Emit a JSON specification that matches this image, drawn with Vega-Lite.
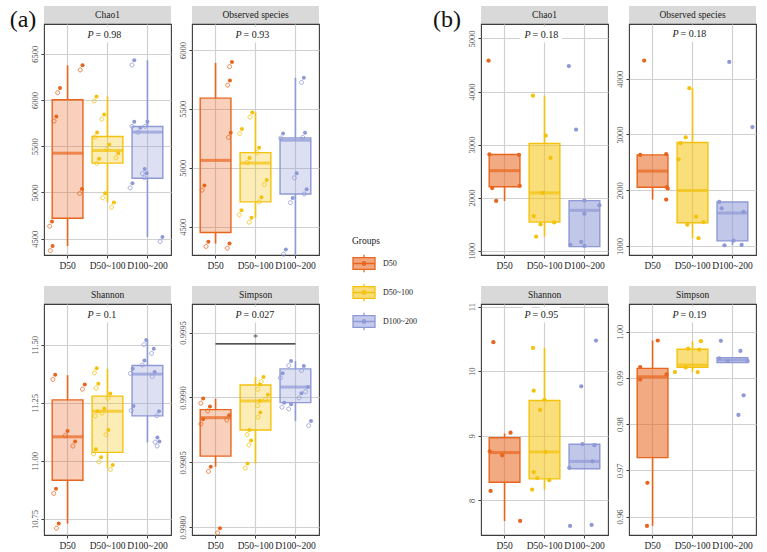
{
  "$schema": "https://vega.github.io/schema/vega-lite/v6.json",
  "padding": {"left": 9, "top": 6, "right": 2, "bottom": 2},
  "background": "white",
  "config": {
    "font": "Liberation Serif",
    "view": {"stroke": "#3c3c3c", "strokeWidth": 1.1},
    "axisX": {"labelAngle": 0, "labelFontSize": 9.5, "labelColor": "#1a1a1a", "labelPadding": 2, "tickSize": 3, "tickColor": "#3c3c3c", "domain": false, "gridColor": "#d0d0d0", "gridWidth": 1.2, "bandPosition": 0.5},
    "axisY": {"labelAngle": 270, "labelAlign": "center", "labelBaseline": "bottom", "labelFontSize": 8.5, "labelColor": "#4d4d4d", "labelPadding": 2, "tickSize": 3, "tickColor": "#3c3c3c", "domain": false},
    "legend": {"titleFont": "Liberation Serif", "labelFont": "Liberation Serif", "padding": 0}
  },
  "datasets": {
    "pts": [
      {"s":"a","m":"Chao1","g":"D50","v":6128,"j":-0.19},
      {"s":"a","m":"Chao1","g":"D50","v":5821,"j":-0.28},
      {"s":"a","m":"Chao1","g":"D50","v":6374,"j":0.375},
      {"s":"a","m":"Chao1","g":"D50","v":5038,"j":0.36},
      {"s":"a","m":"Chao1","g":"D50","v":4684,"j":-0.39},
      {"s":"a","m":"Chao1","g":"D50","v":4420,"j":-0.375},
      {"s":"a","m":"Chao1","g":"D50~100","v":6038,"j":-0.275},
      {"s":"a","m":"Chao1","g":"D50~100","v":5843,"j":-0.083},
      {"s":"a","m":"Chao1","g":"D50~100","v":5648,"j":-0.26},
      {"s":"a","m":"Chao1","g":"D50~100","v":5518,"j":0.04},
      {"s":"a","m":"Chao1","g":"D50~100","v":5363,"j":-0.21},
      {"s":"a","m":"Chao1","g":"D50~100","v":5424,"j":0.27},
      {"s":"a","m":"Chao1","g":"D50~100","v":4991,"j":-0.06},
      {"s":"a","m":"Chao1","g":"D50~100","v":4890,"j":0.16},
      {"s":"a","m":"Chao1","g":"D100~200","v":6428,"j":-0.33},
      {"s":"a","m":"Chao1","g":"D100~200","v":5764,"j":-0.33},
      {"s":"a","m":"Chao1","g":"D100~200","v":5699,"j":-0.18},
      {"s":"a","m":"Chao1","g":"D100~200","v":5764,"j":0.0},
      {"s":"a","m":"Chao1","g":"D100~200","v":5254,"j":-0.07},
      {"s":"a","m":"Chao1","g":"D100~200","v":5208,"j":-0.02},
      {"s":"a","m":"Chao1","g":"D100~200","v":5099,"j":-0.375},
      {"s":"a","m":"Chao1","g":"D100~200","v":4518,"j":0.375},
      {"s":"a","m":"Observed species","g":"D50","v":5897,"j":0.41},
      {"s":"a","m":"Observed species","g":"D50","v":5740,"j":0.36},
      {"s":"a","m":"Observed species","g":"D50","v":5297,"j":0.38},
      {"s":"a","m":"Observed species","g":"D50","v":4849,"j":-0.28},
      {"s":"a","m":"Observed species","g":"D50","v":4372,"j":-0.18},
      {"s":"a","m":"Observed species","g":"D50","v":4357,"j":0.35},
      {"s":"a","m":"Observed species","g":"D50~100","v":5329,"j":-0.34},
      {"s":"a","m":"Observed species","g":"D50~100","v":5469,"j":-0.08},
      {"s":"a","m":"Observed species","g":"D50~100","v":5169,"j":0.09},
      {"s":"a","m":"Observed species","g":"D50~100","v":5083,"j":-0.15},
      {"s":"a","m":"Observed species","g":"D50~100","v":4897,"j":0.28},
      {"s":"a","m":"Observed species","g":"D50~100","v":4749,"j":0.15},
      {"s":"a","m":"Observed species","g":"D50~100","v":4640,"j":-0.35},
      {"s":"a","m":"Observed species","g":"D50~100","v":4577,"j":-0.1},
      {"s":"a","m":"Observed species","g":"D100~200","v":5763,"j":0.21},
      {"s":"a","m":"Observed species","g":"D100~200","v":5291,"j":-0.31},
      {"s":"a","m":"Observed species","g":"D100~200","v":5297,"j":0.24},
      {"s":"a","m":"Observed species","g":"D100~200","v":4954,"j":0.03},
      {"s":"a","m":"Observed species","g":"D100~200","v":4817,"j":0.28},
      {"s":"a","m":"Observed species","g":"D100~200","v":4743,"j":-0.07},
      {"s":"a","m":"Observed species","g":"D100~200","v":4306,"j":-0.24},
      {"s":"a","m":"Shannon","g":"D50","v":11.371,"j":-0.31},
      {"s":"a","m":"Shannon","g":"D50","v":11.329,"j":0.43},
      {"s":"a","m":"Shannon","g":"D50","v":11.129,"j":0.0},
      {"s":"a","m":"Shannon","g":"D50","v":11.084,"j":0.19},
      {"s":"a","m":"Shannon","g":"D50","v":10.88,"j":-0.29},
      {"s":"a","m":"Shannon","g":"D50","v":10.73,"j":-0.22},
      {"s":"a","m":"Shannon","g":"D50~100","v":11.399,"j":-0.27},
      {"s":"a","m":"Shannon","g":"D50~100","v":11.333,"j":-0.23},
      {"s":"a","m":"Shannon","g":"D50~100","v":11.29,"j":0.07},
      {"s":"a","m":"Shannon","g":"D50~100","v":11.226,"j":-0.08},
      {"s":"a","m":"Shannon","g":"D50~100","v":11.214,"j":-0.25},
      {"s":"a","m":"Shannon","g":"D50~100","v":11.133,"j":0.02},
      {"s":"a","m":"Shannon","g":"D50~100","v":11.05,"j":-0.29},
      {"s":"a","m":"Shannon","g":"D50~100","v":11.016,"j":-0.16},
      {"s":"a","m":"Shannon","g":"D50~100","v":10.983,"j":0.13},
      {"s":"a","m":"Shannon","g":"D100~200","v":11.521,"j":-0.03},
      {"s":"a","m":"Shannon","g":"D100~200","v":11.483,"j":0.16},
      {"s":"a","m":"Shannon","g":"D100~200","v":11.433,"j":-0.075},
      {"s":"a","m":"Shannon","g":"D100~200","v":11.397,"j":-0.37},
      {"s":"a","m":"Shannon","g":"D100~200","v":11.383,"j":0.18},
      {"s":"a","m":"Shannon","g":"D100~200","v":11.237,"j":-0.35},
      {"s":"a","m":"Shannon","g":"D100~200","v":11.214,"j":0.29},
      {"s":"a","m":"Shannon","g":"D100~200","v":11.101,"j":0.25},
      {"s":"a","m":"Shannon","g":"D100~200","v":11.084,"j":0.3},
      {"s":"a","m":"Simpson","g":"D50","v":0.998991,"j":-0.31},
      {"s":"a","m":"Simpson","g":"D50","v":0.998931,"j":-0.14},
      {"s":"a","m":"Simpson","g":"D50","v":0.998831,"j":-0.31},
      {"s":"a","m":"Simpson","g":"D50","v":0.998862,"j":0.34},
      {"s":"a","m":"Simpson","g":"D50","v":0.998466,"j":-0.12},
      {"s":"a","m":"Simpson","g":"D50","v":0.997992,"j":0.11},
      {"s":"a","m":"Simpson","g":"D50~100","v":0.999158,"j":0.2},
      {"s":"a","m":"Simpson","g":"D50~100","v":0.999099,"j":0.11},
      {"s":"a","m":"Simpson","g":"D50~100","v":0.999021,"j":0.31},
      {"s":"a","m":"Simpson","g":"D50~100","v":0.998973,"j":0.11},
      {"s":"a","m":"Simpson","g":"D50~100","v":0.998883,"j":0.12},
      {"s":"a","m":"Simpson","g":"D50~100","v":0.998749,"j":-0.15},
      {"s":"a","m":"Simpson","g":"D50~100","v":0.998669,"j":-0.11},
      {"s":"a","m":"Simpson","g":"D50~100","v":0.998491,"j":-0.2},
      {"s":"a","m":"Simpson","g":"D100~200","v":0.999281,"j":-0.11},
      {"s":"a","m":"Simpson","g":"D100~200","v":0.999243,"j":0.21},
      {"s":"a","m":"Simpson","g":"D100~200","v":0.999186,"j":-0.32},
      {"s":"a","m":"Simpson","g":"D100~200","v":0.99908,"j":0.31},
      {"s":"a","m":"Simpson","g":"D100~200","v":0.999032,"j":0.15},
      {"s":"a","m":"Simpson","g":"D100~200","v":0.99896,"j":-0.28},
      {"s":"a","m":"Simpson","g":"D100~200","v":0.998947,"j":-0.11},
      {"s":"a","m":"Simpson","g":"D100~200","v":0.998818,"j":0.39},
      {"s":"b","m":"Chao1","g":"D50","v":4582,"j":-0.4},
      {"s":"b","m":"Chao1","g":"D50","v":2813,"j":-0.38},
      {"s":"b","m":"Chao1","g":"D50","v":2806,"j":0.36},
      {"s":"b","m":"Chao1","g":"D50","v":2179,"j":-0.31},
      {"s":"b","m":"Chao1","g":"D50","v":2223,"j":0.38},
      {"s":"b","m":"Chao1","g":"D50","v":1938,"j":-0.21},
      {"s":"b","m":"Chao1","g":"D50~100","v":3922,"j":-0.29},
      {"s":"b","m":"Chao1","g":"D50~100","v":3168,"j":0.03},
      {"s":"b","m":"Chao1","g":"D50~100","v":2749,"j":0.15},
      {"s":"b","m":"Chao1","g":"D50~100","v":2090,"j":-0.05},
      {"s":"b","m":"Chao1","g":"D50~100","v":1652,"j":-0.27},
      {"s":"b","m":"Chao1","g":"D50~100","v":1494,"j":-0.1},
      {"s":"b","m":"Chao1","g":"D50~100","v":1532,"j":0.24},
      {"s":"b","m":"Chao1","g":"D50~100","v":1266,"j":-0.21},
      {"s":"b","m":"Chao1","g":"D100~200","v":4480,"j":-0.39},
      {"s":"b","m":"Chao1","g":"D100~200","v":3282,"j":-0.21},
      {"s":"b","m":"Chao1","g":"D100~200","v":1944,"j":0.0},
      {"s":"b","m":"Chao1","g":"D100~200","v":1855,"j":0.375},
      {"s":"b","m":"Chao1","g":"D100~200","v":1697,"j":0.0},
      {"s":"b","m":"Chao1","g":"D100~200","v":1164,"j":-0.08},
      {"s":"b","m":"Chao1","g":"D100~200","v":1107,"j":-0.35},
      {"s":"b","m":"Chao1","g":"D100~200","v":1088,"j":0.0},
      {"s":"b","m":"Observed species","g":"D50","v":4325,"j":-0.21},
      {"s":"b","m":"Observed species","g":"D50","v":2633,"j":-0.31},
      {"s":"b","m":"Observed species","g":"D50","v":2645,"j":0.34},
      {"s":"b","m":"Observed species","g":"D50","v":2054,"j":0.36},
      {"s":"b","m":"Observed species","g":"D50","v":2030,"j":0.38},
      {"s":"b","m":"Observed species","g":"D50","v":1831,"j":0.34},
      {"s":"b","m":"Observed species","g":"D50~100","v":3831,"j":-0.08},
      {"s":"b","m":"Observed species","g":"D50~100","v":2946,"j":-0.17},
      {"s":"b","m":"Observed species","g":"D50~100","v":2843,"j":-0.3},
      {"s":"b","m":"Observed species","g":"D50~100","v":2554,"j":-0.35},
      {"s":"b","m":"Observed species","g":"D50~100","v":1524,"j":0.09},
      {"s":"b","m":"Observed species","g":"D50~100","v":1380,"j":-0.13},
      {"s":"b","m":"Observed species","g":"D50~100","v":1428,"j":0.27},
      {"s":"b","m":"Observed species","g":"D50~100","v":1139,"j":0.15},
      {"s":"b","m":"Observed species","g":"D100~200","v":4301,"j":-0.08},
      {"s":"b","m":"Observed species","g":"D100~200","v":3133,"j":0.5},
      {"s":"b","m":"Observed species","g":"D100~200","v":1789,"j":-0.33},
      {"s":"b","m":"Observed species","g":"D100~200","v":1675,"j":-0.27},
      {"s":"b","m":"Observed species","g":"D100~200","v":1609,"j":0.28},
      {"s":"b","m":"Observed species","g":"D100~200","v":1096,"j":0.03},
      {"s":"b","m":"Observed species","g":"D100~200","v":1012,"j":-0.2},
      {"s":"b","m":"Observed species","g":"D100~200","v":1018,"j":0.23},
      {"s":"b","m":"Shannon","g":"D50","v":10.448,"j":-0.28},
      {"s":"b","m":"Shannon","g":"D50","v":9.047,"j":0.15},
      {"s":"b","m":"Shannon","g":"D50","v":8.76,"j":-0.37},
      {"s":"b","m":"Shannon","g":"D50","v":8.698,"j":-0.06},
      {"s":"b","m":"Shannon","g":"D50","v":8.146,"j":-0.35},
      {"s":"b","m":"Shannon","g":"D50","v":7.682,"j":0.39},
      {"s":"b","m":"Shannon","g":"D50~100","v":10.359,"j":-0.29},
      {"s":"b","m":"Shannon","g":"D50~100","v":9.698,"j":-0.27},
      {"s":"b","m":"Shannon","g":"D50~100","v":9.557,"j":0.0},
      {"s":"b","m":"Shannon","g":"D50~100","v":9.401,"j":-0.11},
      {"s":"b","m":"Shannon","g":"D50~100","v":8.75,"j":0.03},
      {"s":"b","m":"Shannon","g":"D50~100","v":8.438,"j":-0.27},
      {"s":"b","m":"Shannon","g":"D50~100","v":8.344,"j":-0.18},
      {"s":"b","m":"Shannon","g":"D50~100","v":8.313,"j":0.12},
      {"s":"b","m":"Shannon","g":"D50~100","v":8.167,"j":-0.31},
      {"s":"b","m":"Shannon","g":"D100~200","v":10.474,"j":0.29},
      {"s":"b","m":"Shannon","g":"D100~200","v":9.766,"j":-0.08},
      {"s":"b","m":"Shannon","g":"D100~200","v":8.87,"j":-0.05},
      {"s":"b","m":"Shannon","g":"D100~200","v":8.854,"j":0.25},
      {"s":"b","m":"Shannon","g":"D100~200","v":8.604,"j":0.2},
      {"s":"b","m":"Shannon","g":"D100~200","v":8.505,"j":-0.38},
      {"s":"b","m":"Shannon","g":"D100~200","v":7.62,"j":0.18},
      {"s":"b","m":"Shannon","g":"D100~200","v":7.604,"j":-0.36},
      {"s":"b","m":"Simpson","g":"D50","v":0.9981,"j":0.13},
      {"s":"b","m":"Simpson","g":"D50","v":0.99235,"j":-0.31},
      {"s":"b","m":"Simpson","g":"D50","v":0.98965,"j":-0.31},
      {"s":"b","m":"Simpson","g":"D50","v":0.99075,"j":0.35},
      {"s":"b","m":"Simpson","g":"D50","v":0.96729,"j":-0.13},
      {"s":"b","m":"Simpson","g":"D50","v":0.95796,"j":-0.14},
      {"s":"b","m":"Simpson","g":"D50~100","v":0.99796,"j":0.21},
      {"s":"b","m":"Simpson","g":"D50~100","v":0.99636,"j":-0.11},
      {"s":"b","m":"Simpson","g":"D50~100","v":0.99614,"j":0.17},
      {"s":"b","m":"Simpson","g":"D50~100","v":0.99126,"j":-0.44},
      {"s":"b","m":"Simpson","g":"D50~100","v":0.99228,"j":-0.17},
      {"s":"b","m":"Simpson","g":"D50~100","v":0.99126,"j":0.13},
      {"s":"b","m":"Simpson","g":"D100~200","v":0.99803,"j":-0.29},
      {"s":"b","m":"Simpson","g":"D100~200","v":0.99585,"j":0.2},
      {"s":"b","m":"Simpson","g":"D100~200","v":0.99424,"j":-0.33},
      {"s":"b","m":"Simpson","g":"D100~200","v":0.99366,"j":-0.12},
      {"s":"b","m":"Simpson","g":"D100~200","v":0.99366,"j":0.38},
      {"s":"b","m":"Simpson","g":"D100~200","v":0.98623,"j":0.28},
      {"s":"b","m":"Simpson","g":"D100~200","v":0.982,"j":0.15}
    ],
    "box": [
      {"s":"a","m":"Chao1","g":"D50","lo":4420,"q1":4720,"md":5424,"q3":6002,"hi":6374},
      {"s":"a","m":"Chao1","g":"D50~100","lo":4890,"q1":5316,"md":5453,"q3":5605,"hi":6038},
      {"s":"a","m":"Chao1","g":"D100~200","lo":4518,"q1":5153,"md":5652,"q3":5713,"hi":6428},
      {"s":"a","m":"Observed species","g":"D50","lo":4357,"q1":4451,"md":5063,"q3":5591,"hi":5891},
      {"s":"a","m":"Observed species","g":"D50~100","lo":4577,"q1":4711,"md":5040,"q3":5129,"hi":5469},
      {"s":"a","m":"Observed species","g":"D100~200","lo":4262,"q1":4777,"md":5234,"q3":5254,"hi":5763},
      {"s":"a","m":"Shannon","g":"D50","lo":10.73,"q1":10.917,"md":11.104,"q3":11.263,"hi":11.369},
      {"s":"a","m":"Shannon","g":"D50~100","lo":10.97,"q1":11.037,"md":11.214,"q3":11.279,"hi":11.397},
      {"s":"a","m":"Shannon","g":"D100~200","lo":11.08,"q1":11.194,"md":11.374,"q3":11.411,"hi":11.521},
      {"s":"a","m":"Simpson","g":"D50","lo":0.998466,"q1":0.998548,"md":0.998844,"q3":0.998906,"hi":0.998991},
      {"s":"a","m":"Simpson","g":"D50~100","lo":0.998491,"q1":0.998749,"md":0.998973,"q3":0.999096,"hi":0.999158},
      {"s":"a","m":"Simpson","g":"D100~200","lo":0.998818,"q1":0.99896,"md":0.99908,"q3":0.99922,"hi":0.999281},
      {"s":"b","m":"Chao1","g":"D50","lo":1938,"q1":2204,"md":2508,"q3":2813,"hi":2813},
      {"s":"b","m":"Chao1","g":"D50~100","lo":1266,"q1":1538,"md":2090,"q3":3022,"hi":3922},
      {"s":"b","m":"Chao1","g":"D100~200","lo":1076,"q1":1076,"md":1760,"q3":1944,"hi":1944},
      {"s":"b","m":"Observed species","g":"D50","lo":1831,"q1":2054,"md":2343,"q3":2633,"hi":2645},
      {"s":"b","m":"Observed species","g":"D50~100","lo":1139,"q1":1416,"md":1994,"q3":2855,"hi":3831},
      {"s":"b","m":"Observed species","g":"D100~200","lo":1012,"q1":1090,"md":1590,"q3":1789,"hi":1789},
      {"s":"b","m":"Shannon","g":"D50","lo":7.68,"q1":8.281,"md":8.74,"q3":8.969,"hi":9.036},
      {"s":"b","m":"Shannon","g":"D50~100","lo":8.167,"q1":8.333,"md":8.75,"q3":9.547,"hi":10.359},
      {"s":"b","m":"Shannon","g":"D100~200","lo":8.49,"q1":8.49,"md":8.604,"q3":8.87,"hi":8.87},
      {"s":"b","m":"Simpson","g":"D50","lo":0.958,"q1":0.97275,"md":0.99024,"q3":0.99206,"hi":0.9981},
      {"s":"b","m":"Simpson","g":"D50~100","lo":0.99126,"q1":0.99228,"md":0.99279,"q3":0.99621,"hi":0.99796},
      {"s":"b","m":"Simpson","g":"D100~200","lo":0.9933,"q1":0.9933,"md":0.99388,"q3":0.99439,"hi":0.99439}
    ],
    "lab": [
      {"s":"a","m":"Chao1","t":"= 0.98","y":6700},
      {"s":"a","m":"Observed species","t":"= 0.93","y":6126},
      {"s":"a","m":"Shannon","t":"= 0.1","y":11.63},
      {"s":"a","m":"Simpson","t":"= 0.027","y":0.999634},
      {"s":"b","m":"Chao1","t":"= 0.18","y":5070},
      {"s":"b","m":"Observed species","t":"= 0.18","y":4801},
      {"s":"b","m":"Shannon","t":"= 0.95","y":10.875},
      {"s":"b","m":"Simpson","t":"= 0.19","y":1.0037}
    ],
    "sig": [
      {"s":"a","m":"Simpson","g1":"D50","g2":"D100~200","y":0.999413,"ys":0.999461}
    ]
  },
  "bounds": "flush",
  "align": "each",
  "columns": 5,
  "spacing": {"row": 0, "column": 21},
  "resolve": {"scale": {"color": "independent", "fill": "independent", "stroke": "independent", "xOffset": "independent"}, "legend": {"fill": "independent", "stroke": "independent", "color": "independent"}},
  "concat": [
    {"width": 127, "height": 18, "data": {"values": [{"t": "Chao1"}]},
     "mark": {"type": "text", "fontSize": 9.5, "color": "#1a1a1a"},
     "encoding": {"text": {"field": "t", "type": "nominal"}},
     "view": {"fill": "#d9d9d9"},
     "title": {"text": "(a)", "orient": "left", "anchor": "end", "angle": 0, "align": "right", "baseline": "top", "fontSize": 24, "fontWeight": "normal", "color": "#111111", "offset": -19, "dy": 2}},
    {"width": 127, "height": 18, "data": {"values": [{"t": "Observed  species"}]},
     "mark": {"type": "text", "fontSize": 9.5, "color": "#1a1a1a"},
     "encoding": {"text": {"field": "t", "type": "nominal"}},
     "view": {"fill": "#d9d9d9"}},
    {"width": 120, "height": 18, "data": {"values": [{}]}, "mark": {"type": "text", "text": ""}, "view": {"stroke": null}},
    {"width": 127, "height": 18, "data": {"values": [{"t": "Chao1"}]},
     "mark": {"type": "text", "fontSize": 9.5, "color": "#1a1a1a"},
     "encoding": {"text": {"field": "t", "type": "nominal"}},
     "view": {"fill": "#d9d9d9"},
     "title": {"text": "(b)", "orient": "left", "anchor": "end", "angle": 0, "align": "right", "baseline": "top", "fontSize": 24, "fontWeight": "normal", "color": "#111111", "offset": -8, "dy": 2}},
    {"width": 127, "height": 18, "data": {"values": [{"t": "Observed  species"}]},
     "mark": {"type": "text", "fontSize": 9.5, "color": "#1a1a1a"},
     "encoding": {"text": {"field": "t", "type": "nominal"}},
     "view": {"fill": "#d9d9d9"}},

    {"width": 127, "height": 231,
     "resolve": {"scale": {"xOffset": "independent"}},
     "layer": [
       {"data": {"name": "box"}, "transform": [{"filter": "datum.s==='a'&&datum.m==='Chao1'"}],
        "layer": [
          {"mark": {"type": "rule", "strokeWidth": 1.6},
           "encoding": {"x": {"field": "g", "type": "nominal", "title": null, "scale": {"domain": ["D50","D50~100","D100~200"], "paddingInner": 0, "paddingOuter": 0.09}, "axis": {"grid": true}},
                        "y": {"field": "q3", "type": "quantitative", "title": null, "scale": {"domain": [4323, 6821], "nice": false, "zero": false},
                              "axis": {"values": [4500,4750,5000,5250,5500,5750,6000,6250,6500,6750], "format": "d", "labelExpr": "datum.value % 500 === 0 ? datum.label : ''",
                                       "gridColor": {"condition": {"test": "datum.value % 500 === 0", "value": "#d0d0d0"}, "value": "#ebebeb"},
                                       "gridWidth": {"condition": {"test": "datum.value % 500 === 0", "value": 1.2}, "value": 0.6},
                                       "tickOpacity": {"condition": {"test": "datum.value % 500 === 0", "value": 1}, "value": 0}}},
                        "y2": {"field": "hi"},
                        "color": {"field": "g", "type": "nominal", "scale": {"domain": ["D50","D50~100","D100~200"], "range": ["#E8651D","#F4C20D","#8E99D6"]}, "legend": null}}},
          {"mark": {"type": "rule", "strokeWidth": 1.6},
           "encoding": {"x": {"field": "g", "type": "nominal", "title": null}, "y": {"field": "lo", "type": "quantitative", "title": null}, "y2": {"field": "q1"},
                        "color": {"field": "g", "type": "nominal", "legend": null}}},
          {"mark": {"type": "bar", "width": {"band": 0.77}, "fillOpacity": 0.3, "strokeWidth": 1.4},
           "encoding": {"x": {"field": "g", "type": "nominal", "title": null}, "y": {"field": "q1", "type": "quantitative", "title": null}, "y2": {"field": "q3"},
                        "fill": {"field": "g", "type": "nominal", "scale": {"domain": ["D50","D50~100","D100~200"], "range": ["#E8651D","#F4C20D","#8E99D6"]}, "legend": null},
                        "stroke": {"field": "g", "type": "nominal", "scale": {"domain": ["D50","D50~100","D100~200"], "range": ["#E8651D","#F4C20D","#8E99D6"]}, "legend": null}}},
          {"mark": {"type": "tick", "thickness": 3, "size": 31},
           "encoding": {"x": {"field": "g", "type": "nominal", "title": null}, "y": {"field": "md", "type": "quantitative", "title": null},
                        "color": {"field": "g", "type": "nominal", "legend": null}}}
        ]},
       {"data": {"name": "pts"}, "transform": [{"filter": "datum.s==='a'&&datum.m==='Chao1'"}],
        "encoding": {"x": {"field": "g", "type": "nominal", "title": null}, "xOffset": {"field": "j", "type": "quantitative", "scale": {"domain": [-0.5, 0.5]}},
                     "y": {"field": "v", "type": "quantitative", "title": null}, "color": {"field": "g", "type": "nominal", "legend": null}},
        "layer": [
          {"mark": {"type": "point", "shape": "M-0.15,2.3A1,1,0,1,1,-2.15,2.3A1,1,0,1,1,-0.15,2.3Z", "filled": false, "size": 16, "strokeWidth": 0.9, "opacity": 0.9}},
          {"mark": {"type": "point", "filled": true, "size": 16, "opacity": 1}}
        ]},
       {"data": {"name": "lab"}, "transform": [{"filter": "datum.s==='a'&&datum.m==='Chao1'"}],
        "encoding": {"x": {"datum": "D50~100", "type": "nominal", "title": null}, "y": {"field": "y", "type": "quantitative", "title": null}},
        "layer": [
          {"mark": {"type": "text", "text": "P", "fontStyle": "italic", "align": "right", "dx": -14, "fontSize": 10, "fill": "white", "stroke": "white", "strokeWidth": 9, "strokeJoin": "round"}},
          {"mark": {"type": "text", "align": "left", "dx": -12, "fontSize": 10, "fill": "white", "stroke": "white", "strokeWidth": 9, "strokeJoin": "round"}, "encoding": {"text": {"field": "t"}}},
          {"mark": {"type": "text", "text": "P", "fontStyle": "italic", "align": "right", "dx": -14, "fontSize": 10, "fill": "#1a1a1a"}},
          {"mark": {"type": "text", "align": "left", "dx": -12, "fontSize": 10, "fill": "#1a1a1a"}, "encoding": {"text": {"field": "t"}}}
        ]}
     ]},
    {"width": 127, "height": 231,
     "resolve": {"scale": {"xOffset": "independent"}},
     "layer": [
       {"data": {"name": "box"}, "transform": [{"filter": "datum.s==='a'&&datum.m==='Observed species'"}],
        "layer": [
          {"mark": {"type": "rule", "strokeWidth": 1.6},
           "encoding": {"x": {"field": "g", "type": "nominal", "title": null, "scale": {"domain": ["D50","D50~100","D100~200"], "paddingInner": 0, "paddingOuter": 0.09}, "axis": {"grid": true}},
                        "y": {"field": "q3", "type": "quantitative", "title": null, "scale": {"domain": [4260, 6220], "nice": false, "zero": false},
                              "axis": {"values": [4500,4750,5000,5250,5500,5750,6000], "format": "d", "labelExpr": "datum.value % 500 === 0 ? datum.label : ''",
                                       "gridColor": {"condition": {"test": "datum.value % 500 === 0", "value": "#d0d0d0"}, "value": "#ebebeb"},
                                       "gridWidth": {"condition": {"test": "datum.value % 500 === 0", "value": 1.2}, "value": 0.6},
                                       "tickOpacity": {"condition": {"test": "datum.value % 500 === 0", "value": 1}, "value": 0}}},
                        "y2": {"field": "hi"},
                        "color": {"field": "g", "type": "nominal", "scale": {"domain": ["D50","D50~100","D100~200"], "range": ["#E8651D","#F4C20D","#8E99D6"]}, "legend": null}}},
          {"mark": {"type": "rule", "strokeWidth": 1.6},
           "encoding": {"x": {"field": "g", "type": "nominal", "title": null}, "y": {"field": "lo", "type": "quantitative", "title": null}, "y2": {"field": "q1"},
                        "color": {"field": "g", "type": "nominal", "legend": null}}},
          {"mark": {"type": "bar", "width": {"band": 0.77}, "fillOpacity": 0.3, "strokeWidth": 1.4},
           "encoding": {"x": {"field": "g", "type": "nominal", "title": null}, "y": {"field": "q1", "type": "quantitative", "title": null}, "y2": {"field": "q3"},
                        "fill": {"field": "g", "type": "nominal", "scale": {"domain": ["D50","D50~100","D100~200"], "range": ["#E8651D","#F4C20D","#8E99D6"]}, "legend": null},
                        "stroke": {"field": "g", "type": "nominal", "scale": {"domain": ["D50","D50~100","D100~200"], "range": ["#E8651D","#F4C20D","#8E99D6"]}, "legend": null}}},
          {"mark": {"type": "tick", "thickness": 3, "size": 31},
           "encoding": {"x": {"field": "g", "type": "nominal", "title": null}, "y": {"field": "md", "type": "quantitative", "title": null},
                        "color": {"field": "g", "type": "nominal", "legend": null}}}
        ]},
       {"data": {"name": "pts"}, "transform": [{"filter": "datum.s==='a'&&datum.m==='Observed species'"}],
        "encoding": {"x": {"field": "g", "type": "nominal", "title": null}, "xOffset": {"field": "j", "type": "quantitative", "scale": {"domain": [-0.5, 0.5]}},
                     "y": {"field": "v", "type": "quantitative", "title": null}, "color": {"field": "g", "type": "nominal", "legend": null}},
        "layer": [
          {"mark": {"type": "point", "shape": "M-0.15,2.3A1,1,0,1,1,-2.15,2.3A1,1,0,1,1,-0.15,2.3Z", "filled": false, "size": 16, "strokeWidth": 0.9, "opacity": 0.9}},
          {"mark": {"type": "point", "filled": true, "size": 16, "opacity": 1}}
        ]},
       {"data": {"name": "lab"}, "transform": [{"filter": "datum.s==='a'&&datum.m==='Observed species'"}],
        "encoding": {"x": {"datum": "D50~100", "type": "nominal", "title": null}, "y": {"field": "y", "type": "quantitative", "title": null}},
        "layer": [
          {"mark": {"type": "text", "text": "P", "fontStyle": "italic", "align": "right", "dx": -14, "fontSize": 10, "fill": "white", "stroke": "white", "strokeWidth": 9, "strokeJoin": "round"}},
          {"mark": {"type": "text", "align": "left", "dx": -12, "fontSize": 10, "fill": "white", "stroke": "white", "strokeWidth": 9, "strokeJoin": "round"}, "encoding": {"text": {"field": "t"}}},
          {"mark": {"type": "text", "text": "P", "fontStyle": "italic", "align": "right", "dx": -14, "fontSize": 10, "fill": "#1a1a1a"}},
          {"mark": {"type": "text", "align": "left", "dx": -12, "fontSize": 10, "fill": "#1a1a1a"}, "encoding": {"text": {"field": "t"}}}
        ]}
     ]},
    {"width": 120, "height": 231,
     "data": {"values": [{"g": "D50"}, {"g": "D50~100"}, {"g": "D100~200"}]},
     "transform": [{"filter": "false"}],
     "mark": {"type": "point", "filled": true, "shape": "M-1,-0.53H1V0.53H-1Z M0,-0.53V-0.8 M0,0.53V0.8 M-1,0H1 M0.16,0A0.16,0.16,0,1,1,-0.16,0A0.16,0.16,0,1,1,0.16,0Z"},
     "encoding": {
       "fill": {"field": "g", "type": "nominal", "title": "Groups", "scale": {"domain": ["D50","D50~100","D100~200"], "range": ["#F3A77E","#F8DC78","#C4CAEC"]},
                "legend": {"orient": "none", "legendX": 12, "legendY": 212, "symbolType": "M-1,-0.53H1V0.53H-1Z M0,-0.53V-0.8 M0,0.53V0.8 M-1,0H1 M0.16,0A0.16,0.16,0,1,1,-0.16,0A0.16,0.16,0,1,1,0.16,0Z", "symbolSize": 484, "symbolStrokeWidth": 1.3, "symbolOpacity": 1, "labelFontSize": 8, "labelColor": "#1a1a1a", "titleFontSize": 9.5, "titleFontWeight": "normal", "titleColor": "#1a1a1a", "rowPadding": 5, "labelOffset": 7, "titlePadding": 6}},
       "stroke": {"field": "g", "type": "nominal", "title": "Groups", "scale": {"domain": ["D50","D50~100","D100~200"], "range": ["#E8651D","#F4C20D","#8E99D6"]},
                "legend": {"orient": "none", "legendX": 12, "legendY": 212, "symbolType": "M-1,-0.53H1V0.53H-1Z M0,-0.53V-0.8 M0,0.53V0.8 M-1,0H1 M0.16,0A0.16,0.16,0,1,1,-0.16,0A0.16,0.16,0,1,1,0.16,0Z", "symbolSize": 484, "symbolStrokeWidth": 1.3, "symbolOpacity": 1, "labelFontSize": 8, "labelColor": "#1a1a1a", "titleFontSize": 9.5, "titleFontWeight": "normal", "titleColor": "#1a1a1a", "rowPadding": 5, "labelOffset": 7, "titlePadding": 6}}
     },
     "view": {"stroke": null}},
    {"width": 127, "height": 231,
     "resolve": {"scale": {"xOffset": "independent"}},
     "layer": [
       {"data": {"name": "box"}, "transform": [{"filter": "datum.s==='b'&&datum.m==='Chao1'"}],
        "layer": [
          {"mark": {"type": "rule", "strokeWidth": 1.6},
           "encoding": {"x": {"field": "g", "type": "nominal", "title": null, "scale": {"domain": ["D50","D50~100","D100~200"], "paddingInner": 0, "paddingOuter": 0.09}, "axis": {"grid": true}},
                        "y": {"field": "q3", "type": "quantitative", "title": null, "scale": {"domain": [918, 5273], "nice": false, "zero": false},
                              "axis": {"values": [1000,1500,2000,2500,3000,3500,4000,4500,5000], "format": "d", "labelExpr": "datum.value % 1000 === 0 ? datum.label : ''",
                                       "gridColor": {"condition": {"test": "datum.value % 1000 === 0", "value": "#d0d0d0"}, "value": "#ebebeb"},
                                       "gridWidth": {"condition": {"test": "datum.value % 1000 === 0", "value": 1.2}, "value": 0.6},
                                       "tickOpacity": {"condition": {"test": "datum.value % 1000 === 0", "value": 1}, "value": 0}}},
                        "y2": {"field": "hi"},
                        "color": {"field": "g", "type": "nominal", "scale": {"domain": ["D50","D50~100","D100~200"], "range": ["#E8651D","#F4C20D","#8E99D6"]}, "legend": null}}},
          {"mark": {"type": "rule", "strokeWidth": 1.6},
           "encoding": {"x": {"field": "g", "type": "nominal", "title": null}, "y": {"field": "lo", "type": "quantitative", "title": null}, "y2": {"field": "q1"},
                        "color": {"field": "g", "type": "nominal", "legend": null}}},
          {"mark": {"type": "bar", "width": {"band": 0.77}, "fillOpacity": 0.55, "strokeWidth": 1.4},
           "encoding": {"x": {"field": "g", "type": "nominal", "title": null}, "y": {"field": "q1", "type": "quantitative", "title": null}, "y2": {"field": "q3"},
                        "fill": {"field": "g", "type": "nominal", "scale": {"domain": ["D50","D50~100","D100~200"], "range": ["#E8651D","#F4C20D","#8E99D6"]}, "legend": null},
                        "stroke": {"field": "g", "type": "nominal", "scale": {"domain": ["D50","D50~100","D100~200"], "range": ["#E8651D","#F4C20D","#8E99D6"]}, "legend": null}}},
          {"mark": {"type": "tick", "thickness": 3, "size": 31},
           "encoding": {"x": {"field": "g", "type": "nominal", "title": null}, "y": {"field": "md", "type": "quantitative", "title": null},
                        "color": {"field": "g", "type": "nominal", "legend": null}}}
        ]},
       {"data": {"name": "pts"}, "transform": [{"filter": "datum.s==='b'&&datum.m==='Chao1'"}],
        "mark": {"type": "point", "filled": true, "size": 18, "opacity": 1},
        "encoding": {"x": {"field": "g", "type": "nominal", "title": null}, "xOffset": {"field": "j", "type": "quantitative", "scale": {"domain": [-0.5, 0.5]}},
                     "y": {"field": "v", "type": "quantitative", "title": null}, "color": {"field": "g", "type": "nominal", "legend": null}}},
       {"data": {"name": "lab"}, "transform": [{"filter": "datum.s==='b'&&datum.m==='Chao1'"}],
        "encoding": {"x": {"datum": "D50~100", "type": "nominal", "title": null}, "y": {"field": "y", "type": "quantitative", "title": null}},
        "layer": [
          {"mark": {"type": "text", "text": "P", "fontStyle": "italic", "align": "right", "dx": -14, "fontSize": 10, "fill": "white", "stroke": "white", "strokeWidth": 9, "strokeJoin": "round"}},
          {"mark": {"type": "text", "align": "left", "dx": -12, "fontSize": 10, "fill": "white", "stroke": "white", "strokeWidth": 9, "strokeJoin": "round"}, "encoding": {"text": {"field": "t"}}},
          {"mark": {"type": "text", "text": "P", "fontStyle": "italic", "align": "right", "dx": -14, "fontSize": 10, "fill": "#1a1a1a"}},
          {"mark": {"type": "text", "align": "left", "dx": -12, "fontSize": 10, "fill": "#1a1a1a"}, "encoding": {"text": {"field": "t"}}}
        ]}
     ]},
    {"width": 127, "height": 231,
     "resolve": {"scale": {"xOffset": "independent"}},
     "layer": [
       {"data": {"name": "box"}, "transform": [{"filter": "datum.s==='b'&&datum.m==='Observed species'"}],
        "layer": [
          {"mark": {"type": "rule", "strokeWidth": 1.6},
           "encoding": {"x": {"field": "g", "type": "nominal", "title": null, "scale": {"domain": ["D50","D50~100","D100~200"], "paddingInner": 0, "paddingOuter": 0.09}, "axis": {"grid": true}},
                        "y": {"field": "q3", "type": "quantitative", "title": null, "scale": {"domain": [837, 4982], "nice": false, "zero": false},
                              "axis": {"values": [1000,1500,2000,2500,3000,3500,4000,4500], "format": "d", "labelExpr": "datum.value % 1000 === 0 ? datum.label : ''",
                                       "gridColor": {"condition": {"test": "datum.value % 1000 === 0", "value": "#d0d0d0"}, "value": "#ebebeb"},
                                       "gridWidth": {"condition": {"test": "datum.value % 1000 === 0", "value": 1.2}, "value": 0.6},
                                       "tickOpacity": {"condition": {"test": "datum.value % 1000 === 0", "value": 1}, "value": 0}}},
                        "y2": {"field": "hi"},
                        "color": {"field": "g", "type": "nominal", "scale": {"domain": ["D50","D50~100","D100~200"], "range": ["#E8651D","#F4C20D","#8E99D6"]}, "legend": null}}},
          {"mark": {"type": "rule", "strokeWidth": 1.6},
           "encoding": {"x": {"field": "g", "type": "nominal", "title": null}, "y": {"field": "lo", "type": "quantitative", "title": null}, "y2": {"field": "q1"},
                        "color": {"field": "g", "type": "nominal", "legend": null}}},
          {"mark": {"type": "bar", "width": {"band": 0.77}, "fillOpacity": 0.55, "strokeWidth": 1.4},
           "encoding": {"x": {"field": "g", "type": "nominal", "title": null}, "y": {"field": "q1", "type": "quantitative", "title": null}, "y2": {"field": "q3"},
                        "fill": {"field": "g", "type": "nominal", "scale": {"domain": ["D50","D50~100","D100~200"], "range": ["#E8651D","#F4C20D","#8E99D6"]}, "legend": null},
                        "stroke": {"field": "g", "type": "nominal", "scale": {"domain": ["D50","D50~100","D100~200"], "range": ["#E8651D","#F4C20D","#8E99D6"]}, "legend": null}}},
          {"mark": {"type": "tick", "thickness": 3, "size": 31},
           "encoding": {"x": {"field": "g", "type": "nominal", "title": null}, "y": {"field": "md", "type": "quantitative", "title": null},
                        "color": {"field": "g", "type": "nominal", "legend": null}}}
        ]},
       {"data": {"name": "pts"}, "transform": [{"filter": "datum.s==='b'&&datum.m==='Observed species'"}],
        "mark": {"type": "point", "filled": true, "size": 18, "opacity": 1},
        "encoding": {"x": {"field": "g", "type": "nominal", "title": null}, "xOffset": {"field": "j", "type": "quantitative", "scale": {"domain": [-0.5, 0.5]}},
                     "y": {"field": "v", "type": "quantitative", "title": null}, "color": {"field": "g", "type": "nominal", "legend": null}}},
       {"data": {"name": "lab"}, "transform": [{"filter": "datum.s==='b'&&datum.m==='Observed species'"}],
        "encoding": {"x": {"datum": "D50~100", "type": "nominal", "title": null}, "y": {"field": "y", "type": "quantitative", "title": null}},
        "layer": [
          {"mark": {"type": "text", "text": "P", "fontStyle": "italic", "align": "right", "dx": -14, "fontSize": 10, "fill": "white", "stroke": "white", "strokeWidth": 9, "strokeJoin": "round"}},
          {"mark": {"type": "text", "align": "left", "dx": -12, "fontSize": 10, "fill": "white", "stroke": "white", "strokeWidth": 9, "strokeJoin": "round"}, "encoding": {"text": {"field": "t"}}},
          {"mark": {"type": "text", "text": "P", "fontStyle": "italic", "align": "right", "dx": -14, "fontSize": 10, "fill": "#1a1a1a"}},
          {"mark": {"type": "text", "align": "left", "dx": -12, "fontSize": 10, "fill": "#1a1a1a"}, "encoding": {"text": {"field": "t"}}}
        ]}
     ]},

    {"width": 1, "height": 31, "data": {"values": [{}]}, "mark": {"type": "text", "text": ""}, "view": {"stroke": null}},
    {"width": 1, "height": 31, "data": {"values": [{}]}, "mark": {"type": "text", "text": ""}, "view": {"stroke": null}},
    {"width": 1, "height": 31, "data": {"values": [{}]}, "mark": {"type": "text", "text": ""}, "view": {"stroke": null}},
    {"width": 1, "height": 31, "data": {"values": [{}]}, "mark": {"type": "text", "text": ""}, "view": {"stroke": null}},
    {"width": 1, "height": 31, "data": {"values": [{}]}, "mark": {"type": "text", "text": ""}, "view": {"stroke": null}},

    {"width": 127, "height": 18, "data": {"values": [{"t": "Shannon"}]},
     "mark": {"type": "text", "fontSize": 9.5, "color": "#1a1a1a"},
     "encoding": {"text": {"field": "t", "type": "nominal"}},
     "view": {"fill": "#d9d9d9"}},
    {"width": 127, "height": 18, "data": {"values": [{"t": "Simpson"}]},
     "mark": {"type": "text", "fontSize": 9.5, "color": "#1a1a1a"},
     "encoding": {"text": {"field": "t", "type": "nominal"}},
     "view": {"fill": "#d9d9d9"}},
    {"width": 1, "height": 18, "data": {"values": [{}]}, "mark": {"type": "text", "text": ""}, "view": {"stroke": null}},
    {"width": 127, "height": 18, "data": {"values": [{"t": "Shannon"}]},
     "mark": {"type": "text", "fontSize": 9.5, "color": "#1a1a1a"},
     "encoding": {"text": {"field": "t", "type": "nominal"}},
     "view": {"fill": "#d9d9d9"}},
    {"width": 127, "height": 18, "data": {"values": [{"t": "Simpson"}]},
     "mark": {"type": "text", "fontSize": 9.5, "color": "#1a1a1a"},
     "encoding": {"text": {"field": "t", "type": "nominal"}},
     "view": {"fill": "#d9d9d9"}},

    {"width": 127, "height": 231,
     "resolve": {"scale": {"xOffset": "independent"}},
     "layer": [
       {"data": {"name": "box"}, "transform": [{"filter": "datum.s==='a'&&datum.m==='Shannon'"}],
        "layer": [
          {"mark": {"type": "rule", "strokeWidth": 1.6},
           "encoding": {"x": {"field": "g", "type": "nominal", "title": null, "scale": {"domain": ["D50","D50~100","D100~200"], "paddingInner": 0, "paddingOuter": 0.09}, "axis": {"grid": true}},
                        "y": {"field": "q3", "type": "quantitative", "title": null, "scale": {"domain": [10.681, 11.676], "nice": false, "zero": false},
                              "axis": {"values": [10.75,10.875,11,11.125,11.25,11.375,11.5,11.625], "format": ".2f", "labelExpr": "abs(datum.value*4-round(datum.value*4))<0.001 ? datum.label : ''",
                                       "gridColor": {"condition": {"test": "abs(datum.value*4-round(datum.value*4))<0.001", "value": "#d0d0d0"}, "value": "#ebebeb"},
                                       "gridWidth": {"condition": {"test": "abs(datum.value*4-round(datum.value*4))<0.001", "value": 1.2}, "value": 0.6},
                                       "tickOpacity": {"condition": {"test": "abs(datum.value*4-round(datum.value*4))<0.001", "value": 1}, "value": 0}}},
                        "y2": {"field": "hi"},
                        "color": {"field": "g", "type": "nominal", "scale": {"domain": ["D50","D50~100","D100~200"], "range": ["#E8651D","#F4C20D","#8E99D6"]}, "legend": null}}},
          {"mark": {"type": "rule", "strokeWidth": 1.6},
           "encoding": {"x": {"field": "g", "type": "nominal", "title": null}, "y": {"field": "lo", "type": "quantitative", "title": null}, "y2": {"field": "q1"},
                        "color": {"field": "g", "type": "nominal", "legend": null}}},
          {"mark": {"type": "bar", "width": {"band": 0.77}, "fillOpacity": 0.3, "strokeWidth": 1.4},
           "encoding": {"x": {"field": "g", "type": "nominal", "title": null}, "y": {"field": "q1", "type": "quantitative", "title": null}, "y2": {"field": "q3"},
                        "fill": {"field": "g", "type": "nominal", "scale": {"domain": ["D50","D50~100","D100~200"], "range": ["#E8651D","#F4C20D","#8E99D6"]}, "legend": null},
                        "stroke": {"field": "g", "type": "nominal", "scale": {"domain": ["D50","D50~100","D100~200"], "range": ["#E8651D","#F4C20D","#8E99D6"]}, "legend": null}}},
          {"mark": {"type": "tick", "thickness": 3, "size": 31},
           "encoding": {"x": {"field": "g", "type": "nominal", "title": null}, "y": {"field": "md", "type": "quantitative", "title": null},
                        "color": {"field": "g", "type": "nominal", "legend": null}}}
        ]},
       {"data": {"name": "pts"}, "transform": [{"filter": "datum.s==='a'&&datum.m==='Shannon'"}],
        "encoding": {"x": {"field": "g", "type": "nominal", "title": null}, "xOffset": {"field": "j", "type": "quantitative", "scale": {"domain": [-0.5, 0.5]}},
                     "y": {"field": "v", "type": "quantitative", "title": null}, "color": {"field": "g", "type": "nominal", "legend": null}},
        "layer": [
          {"mark": {"type": "point", "shape": "M-0.15,2.3A1,1,0,1,1,-2.15,2.3A1,1,0,1,1,-0.15,2.3Z", "filled": false, "size": 16, "strokeWidth": 0.9, "opacity": 0.9}},
          {"mark": {"type": "point", "filled": true, "size": 16, "opacity": 1}}
        ]},
       {"data": {"name": "lab"}, "transform": [{"filter": "datum.s==='a'&&datum.m==='Shannon'"}],
        "encoding": {"x": {"datum": "D50~100", "type": "nominal", "title": null}, "y": {"field": "y", "type": "quantitative", "title": null}},
        "layer": [
          {"mark": {"type": "text", "text": "P", "fontStyle": "italic", "align": "right", "dx": -14, "fontSize": 10, "fill": "white", "stroke": "white", "strokeWidth": 9, "strokeJoin": "round"}},
          {"mark": {"type": "text", "align": "left", "dx": -12, "fontSize": 10, "fill": "white", "stroke": "white", "strokeWidth": 9, "strokeJoin": "round"}, "encoding": {"text": {"field": "t"}}},
          {"mark": {"type": "text", "text": "P", "fontStyle": "italic", "align": "right", "dx": -14, "fontSize": 10, "fill": "#1a1a1a"}},
          {"mark": {"type": "text", "align": "left", "dx": -12, "fontSize": 10, "fill": "#1a1a1a"}, "encoding": {"text": {"field": "t"}}}
        ]}
     ]},
    {"width": 127, "height": 231,
     "resolve": {"scale": {"xOffset": "independent"}},
     "layer": [
       {"data": {"name": "box"}, "transform": [{"filter": "datum.s==='a'&&datum.m==='Simpson'"}],
        "layer": [
          {"mark": {"type": "rule", "strokeWidth": 1.6},
           "encoding": {"x": {"field": "g", "type": "nominal", "title": null, "scale": {"domain": ["D50","D50~100","D100~200"], "paddingInner": 0, "paddingOuter": 0.09}, "axis": {"grid": true}},
                        "y": {"field": "q3", "type": "quantitative", "title": null, "scale": {"domain": [0.99794, 0.99972], "nice": false, "zero": false},
                              "axis": {"values": [0.998,0.99825,0.9985,0.99875,0.999,0.99925,0.9995], "format": ".4f", "labelExpr": "abs(datum.value*2000-round(datum.value*2000))<0.001 ? datum.label : ''",
                                       "gridColor": {"condition": {"test": "abs(datum.value*2000-round(datum.value*2000))<0.001", "value": "#d0d0d0"}, "value": "#ebebeb"},
                                       "gridWidth": {"condition": {"test": "abs(datum.value*2000-round(datum.value*2000))<0.001", "value": 1.2}, "value": 0.6},
                                       "tickOpacity": {"condition": {"test": "abs(datum.value*2000-round(datum.value*2000))<0.001", "value": 1}, "value": 0}}},
                        "y2": {"field": "hi"},
                        "color": {"field": "g", "type": "nominal", "scale": {"domain": ["D50","D50~100","D100~200"], "range": ["#E8651D","#F4C20D","#8E99D6"]}, "legend": null}}},
          {"mark": {"type": "rule", "strokeWidth": 1.6},
           "encoding": {"x": {"field": "g", "type": "nominal", "title": null}, "y": {"field": "lo", "type": "quantitative", "title": null}, "y2": {"field": "q1"},
                        "color": {"field": "g", "type": "nominal", "legend": null}}},
          {"mark": {"type": "bar", "width": {"band": 0.77}, "fillOpacity": 0.3, "strokeWidth": 1.4},
           "encoding": {"x": {"field": "g", "type": "nominal", "title": null}, "y": {"field": "q1", "type": "quantitative", "title": null}, "y2": {"field": "q3"},
                        "fill": {"field": "g", "type": "nominal", "scale": {"domain": ["D50","D50~100","D100~200"], "range": ["#E8651D","#F4C20D","#8E99D6"]}, "legend": null},
                        "stroke": {"field": "g", "type": "nominal", "scale": {"domain": ["D50","D50~100","D100~200"], "range": ["#E8651D","#F4C20D","#8E99D6"]}, "legend": null}}},
          {"mark": {"type": "tick", "thickness": 3, "size": 31},
           "encoding": {"x": {"field": "g", "type": "nominal", "title": null}, "y": {"field": "md", "type": "quantitative", "title": null},
                        "color": {"field": "g", "type": "nominal", "legend": null}}}
        ]},
       {"data": {"name": "pts"}, "transform": [{"filter": "datum.s==='a'&&datum.m==='Simpson'"}],
        "encoding": {"x": {"field": "g", "type": "nominal", "title": null}, "xOffset": {"field": "j", "type": "quantitative", "scale": {"domain": [-0.5, 0.5]}},
                     "y": {"field": "v", "type": "quantitative", "title": null}, "color": {"field": "g", "type": "nominal", "legend": null}},
        "layer": [
          {"mark": {"type": "point", "shape": "M-0.15,2.3A1,1,0,1,1,-2.15,2.3A1,1,0,1,1,-0.15,2.3Z", "filled": false, "size": 16, "strokeWidth": 0.9, "opacity": 0.9}},
          {"mark": {"type": "point", "filled": true, "size": 16, "opacity": 1}}
        ]},
       {"data": {"name": "sig"},
        "layer": [
          {"mark": {"type": "rule", "strokeWidth": 1.2, "color": "#1a1a1a"},
           "encoding": {"x": {"field": "g1", "type": "nominal", "title": null}, "x2": {"field": "g2"}, "y": {"field": "y", "type": "quantitative", "title": null}}},
          {"mark": {"type": "text", "text": "*", "fontSize": 10, "color": "#555555"},
           "encoding": {"x": {"datum": "D50~100", "type": "nominal", "title": null}, "y": {"field": "ys", "type": "quantitative", "title": null}}}
        ]},
       {"data": {"name": "lab"}, "transform": [{"filter": "datum.s==='a'&&datum.m==='Simpson'"}],
        "encoding": {"x": {"datum": "D50~100", "type": "nominal", "title": null}, "y": {"field": "y", "type": "quantitative", "title": null}},
        "layer": [
          {"mark": {"type": "text", "text": "P", "fontStyle": "italic", "align": "right", "dx": -14, "fontSize": 10, "fill": "white", "stroke": "white", "strokeWidth": 9, "strokeJoin": "round"}},
          {"mark": {"type": "text", "align": "left", "dx": -12, "fontSize": 10, "fill": "white", "stroke": "white", "strokeWidth": 9, "strokeJoin": "round"}, "encoding": {"text": {"field": "t"}}},
          {"mark": {"type": "text", "text": "P", "fontStyle": "italic", "align": "right", "dx": -14, "fontSize": 10, "fill": "#1a1a1a"}},
          {"mark": {"type": "text", "align": "left", "dx": -12, "fontSize": 10, "fill": "#1a1a1a"}, "encoding": {"text": {"field": "t"}}}
        ]}
     ]},
    {"width": 1, "height": 231, "data": {"values": [{}]}, "mark": {"type": "text", "text": ""}, "view": {"stroke": null}},
    {"width": 127, "height": 231,
     "resolve": {"scale": {"xOffset": "independent"}},
     "layer": [
       {"data": {"name": "box"}, "transform": [{"filter": "datum.s==='b'&&datum.m==='Shannon'"}],
        "layer": [
          {"mark": {"type": "rule", "strokeWidth": 1.6},
           "encoding": {"x": {"field": "g", "type": "nominal", "title": null, "scale": {"domain": ["D50","D50~100","D100~200"], "paddingInner": 0, "paddingOuter": 0.09}, "axis": {"grid": true}},
                        "y": {"field": "q3", "type": "quantitative", "title": null, "scale": {"domain": [7.464, 11.04], "nice": false, "zero": false},
                              "axis": {"values": [8, 9, 10, 11], "format": "d", "gridColor": "#d0d0d0", "gridWidth": 1.2}},
                        "y2": {"field": "hi"},
                        "color": {"field": "g", "type": "nominal", "scale": {"domain": ["D50","D50~100","D100~200"], "range": ["#E8651D","#F4C20D","#8E99D6"]}, "legend": null}}},
          {"mark": {"type": "rule", "strokeWidth": 1.6},
           "encoding": {"x": {"field": "g", "type": "nominal", "title": null}, "y": {"field": "lo", "type": "quantitative", "title": null}, "y2": {"field": "q1"},
                        "color": {"field": "g", "type": "nominal", "legend": null}}},
          {"mark": {"type": "bar", "width": {"band": 0.77}, "fillOpacity": 0.55, "strokeWidth": 1.4},
           "encoding": {"x": {"field": "g", "type": "nominal", "title": null}, "y": {"field": "q1", "type": "quantitative", "title": null}, "y2": {"field": "q3"},
                        "fill": {"field": "g", "type": "nominal", "scale": {"domain": ["D50","D50~100","D100~200"], "range": ["#E8651D","#F4C20D","#8E99D6"]}, "legend": null},
                        "stroke": {"field": "g", "type": "nominal", "scale": {"domain": ["D50","D50~100","D100~200"], "range": ["#E8651D","#F4C20D","#8E99D6"]}, "legend": null}}},
          {"mark": {"type": "tick", "thickness": 3, "size": 31},
           "encoding": {"x": {"field": "g", "type": "nominal", "title": null}, "y": {"field": "md", "type": "quantitative", "title": null},
                        "color": {"field": "g", "type": "nominal", "legend": null}}}
        ]},
       {"data": {"name": "pts"}, "transform": [{"filter": "datum.s==='b'&&datum.m==='Shannon'"}],
        "mark": {"type": "point", "filled": true, "size": 18, "opacity": 1},
        "encoding": {"x": {"field": "g", "type": "nominal", "title": null}, "xOffset": {"field": "j", "type": "quantitative", "scale": {"domain": [-0.5, 0.5]}},
                     "y": {"field": "v", "type": "quantitative", "title": null}, "color": {"field": "g", "type": "nominal", "legend": null}}},
       {"data": {"name": "lab"}, "transform": [{"filter": "datum.s==='b'&&datum.m==='Shannon'"}],
        "encoding": {"x": {"datum": "D50~100", "type": "nominal", "title": null}, "y": {"field": "y", "type": "quantitative", "title": null}},
        "layer": [
          {"mark": {"type": "text", "text": "P", "fontStyle": "italic", "align": "right", "dx": -14, "fontSize": 10, "fill": "white", "stroke": "white", "strokeWidth": 9, "strokeJoin": "round"}},
          {"mark": {"type": "text", "align": "left", "dx": -12, "fontSize": 10, "fill": "white", "stroke": "white", "strokeWidth": 9, "strokeJoin": "round"}, "encoding": {"text": {"field": "t"}}},
          {"mark": {"type": "text", "text": "P", "fontStyle": "italic", "align": "right", "dx": -14, "fontSize": 10, "fill": "#1a1a1a"}},
          {"mark": {"type": "text", "align": "left", "dx": -12, "fontSize": 10, "fill": "#1a1a1a"}, "encoding": {"text": {"field": "t"}}}
        ]}
     ]},
    {"width": 127, "height": 231,
     "resolve": {"scale": {"xOffset": "independent"}},
     "layer": [
       {"data": {"name": "box"}, "transform": [{"filter": "datum.s==='b'&&datum.m==='Simpson'"}],
        "layer": [
          {"mark": {"type": "rule", "strokeWidth": 1.6},
           "encoding": {"x": {"field": "g", "type": "nominal", "title": null, "scale": {"domain": ["D50","D50~100","D100~200"], "paddingInner": 0, "paddingOuter": 0.09}, "axis": {"grid": true}},
                        "y": {"field": "q3", "type": "quantitative", "title": null, "scale": {"domain": [0.956, 1.006], "nice": false, "zero": false},
                              "axis": {"values": [0.96,0.965,0.97,0.975,0.98,0.985,0.99,0.995,1.0], "format": ".2f", "labelExpr": "abs(datum.value*100-round(datum.value*100))<0.001 ? datum.label : ''",
                                       "gridColor": {"condition": {"test": "abs(datum.value*100-round(datum.value*100))<0.001", "value": "#d0d0d0"}, "value": "#ebebeb"},
                                       "gridWidth": {"condition": {"test": "abs(datum.value*100-round(datum.value*100))<0.001", "value": 1.2}, "value": 0.6},
                                       "tickOpacity": {"condition": {"test": "abs(datum.value*100-round(datum.value*100))<0.001", "value": 1}, "value": 0}}},
                        "y2": {"field": "hi"},
                        "color": {"field": "g", "type": "nominal", "scale": {"domain": ["D50","D50~100","D100~200"], "range": ["#E8651D","#F4C20D","#8E99D6"]}, "legend": null}}},
          {"mark": {"type": "rule", "strokeWidth": 1.6},
           "encoding": {"x": {"field": "g", "type": "nominal", "title": null}, "y": {"field": "lo", "type": "quantitative", "title": null}, "y2": {"field": "q1"},
                        "color": {"field": "g", "type": "nominal", "legend": null}}},
          {"mark": {"type": "bar", "width": {"band": 0.77}, "fillOpacity": 0.55, "strokeWidth": 1.4},
           "encoding": {"x": {"field": "g", "type": "nominal", "title": null}, "y": {"field": "q1", "type": "quantitative", "title": null}, "y2": {"field": "q3"},
                        "fill": {"field": "g", "type": "nominal", "scale": {"domain": ["D50","D50~100","D100~200"], "range": ["#E8651D","#F4C20D","#8E99D6"]}, "legend": null},
                        "stroke": {"field": "g", "type": "nominal", "scale": {"domain": ["D50","D50~100","D100~200"], "range": ["#E8651D","#F4C20D","#8E99D6"]}, "legend": null}}},
          {"mark": {"type": "tick", "thickness": 3, "size": 31},
           "encoding": {"x": {"field": "g", "type": "nominal", "title": null}, "y": {"field": "md", "type": "quantitative", "title": null},
                        "color": {"field": "g", "type": "nominal", "legend": null}}}
        ]},
       {"data": {"name": "pts"}, "transform": [{"filter": "datum.s==='b'&&datum.m==='Simpson'"}],
        "mark": {"type": "point", "filled": true, "size": 18, "opacity": 1},
        "encoding": {"x": {"field": "g", "type": "nominal", "title": null}, "xOffset": {"field": "j", "type": "quantitative", "scale": {"domain": [-0.5, 0.5]}},
                     "y": {"field": "v", "type": "quantitative", "title": null}, "color": {"field": "g", "type": "nominal", "legend": null}}},
       {"data": {"name": "lab"}, "transform": [{"filter": "datum.s==='b'&&datum.m==='Simpson'"}],
        "encoding": {"x": {"datum": "D50~100", "type": "nominal", "title": null}, "y": {"field": "y", "type": "quantitative", "title": null}},
        "layer": [
          {"mark": {"type": "text", "text": "P", "fontStyle": "italic", "align": "right", "dx": -14, "fontSize": 10, "fill": "white", "stroke": "white", "strokeWidth": 9, "strokeJoin": "round"}},
          {"mark": {"type": "text", "align": "left", "dx": -12, "fontSize": 10, "fill": "white", "stroke": "white", "strokeWidth": 9, "strokeJoin": "round"}, "encoding": {"text": {"field": "t"}}},
          {"mark": {"type": "text", "text": "P", "fontStyle": "italic", "align": "right", "dx": -14, "fontSize": 10, "fill": "#1a1a1a"}},
          {"mark": {"type": "text", "align": "left", "dx": -12, "fontSize": 10, "fill": "#1a1a1a"}, "encoding": {"text": {"field": "t"}}}
        ]}
     ]}
  ]
}
